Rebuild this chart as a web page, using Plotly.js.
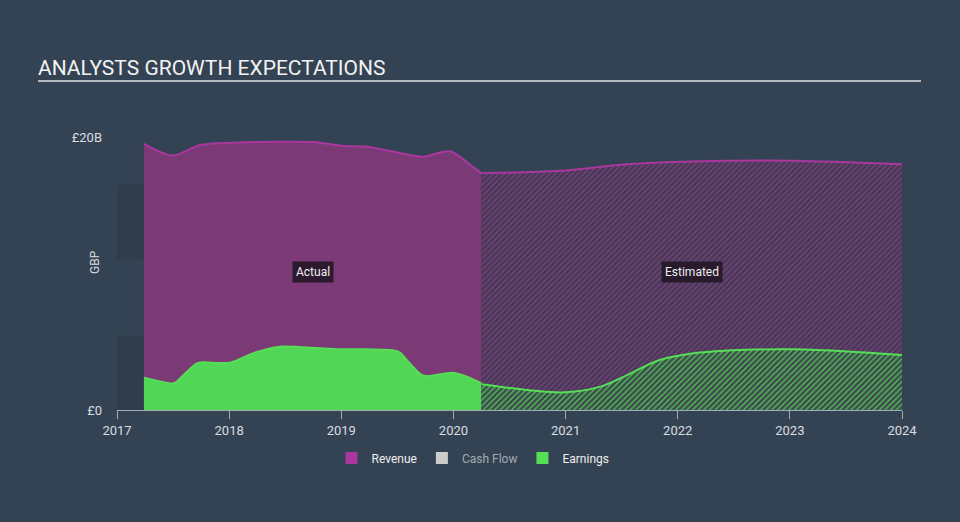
<!DOCTYPE html>
<html>
<head>
<meta charset="utf-8">
<script src="https://cdn.plot.ly/plotly-3.0.1.min.js"></script>
<style>
  html, body { margin: 0; padding: 0; background: #344353; }
  #chart { width: 960px; height: 522px; }
</style>
</head>
<body>
<div id="chart"></div>
<script>
// values in £ billions, x in decimal years
let revActualX = [2017.24, 2017.50, 2017.74, 2018.03, 2018.75, 2019.02, 2019.23, 2019.52, 2019.73, 2019.97, 2020.17, 2020.25];
let revActualY = [19.5, 18.64, 19.41, 19.58, 19.63, 19.34, 19.29, 18.83, 18.56, 18.95, 17.83, 17.35];

let revEstX = [2020.25, 2020.95, 2021.55, 2022.14, 2023.03, 2024.0];
let revEstY = [17.34, 17.53, 18.0, 18.2, 18.26, 18.0];

let earnActualX = [2017.24, 2017.50, 2017.53, 2017.71, 2017.77, 2018.01, 2018.21, 2018.45, 2018.63, 2018.96, 2019.17, 2019.46, 2019.52, 2019.61, 2019.72, 2019.79, 2019.99, 2020.12, 2020.25];
let earnActualY = [2.37, 1.95, 2.07, 3.42, 3.49, 3.47, 4.15, 4.64, 4.62, 4.45, 4.45, 4.37, 4.22, 3.42, 2.56, 2.49, 2.73, 2.44, 1.95];

let earnEstX = [2020.25, 2020.7, 2021.0, 2021.31, 2021.55, 2021.84, 2022.14, 2022.44, 2023.03, 2023.63, 2024.0];
let earnEstY = [1.88, 1.43, 1.30, 1.71, 2.56, 3.66, 4.15, 4.35, 4.45, 4.23, 4.03];

let yearTicks = [2017, 2018, 2019, 2020, 2021, 2022, 2023, 2024];
let yTicks = [0, 20];
let yTickText = ['£0', '£20B'];

let seriesNames = ['Revenue', 'Cash Flow', 'Earnings'];
let seriesColors = ['#a9379e', '#cccccc', '#55de56'];
let hasData = [true, false, true];

let revColor = seriesColors[0];
let earnColor = seriesColors[2];

let data = [
    {
        x: revActualX, y: revActualY, type: 'scatter', mode: 'lines', name: 'Revenue',
        fill: 'tozeroy', fillcolor: '#7b3a76',
        line: {color: revColor, width: 2, shape: 'spline', smoothing: 0.8},
        showlegend: false, hoverinfo: 'skip'
    },
    {
        x: revEstX, y: revEstY, type: 'scatter', mode: 'lines', name: 'Revenue',
        fill: 'tozeroy', fillcolor: '#403d53',
        fillpattern: {shape: '/', size: 4, solidity: 0.3, fgcolor: '#8a3a86', bgcolor: '#403d53'},
        line: {color: revColor, width: 2, shape: 'spline', smoothing: 0.8},
        showlegend: false, hoverinfo: 'skip'
    },
    {
        x: earnActualX, y: earnActualY, type: 'scatter', mode: 'lines', name: 'Earnings',
        fill: 'tozeroy', fillcolor: '#52d655',
        line: {color: earnColor, width: 2, shape: 'spline', smoothing: 0.8},
        showlegend: false, hoverinfo: 'skip'
    },
    {
        x: earnEstX, y: earnEstY, type: 'scatter', mode: 'lines', name: 'Earnings',
        fill: 'tozeroy', fillcolor: '#3d4c4e',
        fillpattern: {shape: '/', size: 4, solidity: 0.3, fgcolor: '#54c957', bgcolor: '#3d4c4e'},
        line: {color: earnColor, width: 2, shape: 'spline', smoothing: 1.1},
        showlegend: false, hoverinfo: 'skip'
    }
];

// legend entries as square swatches (zero-height bars); series without data get dimmed text
seriesNames.forEach(function (name, i) {
    let label = hasData[i] ? name : '<span style="color:#a3aab2">' + name + '</span>';
    data.push({
        x: [yearTicks[0]], y: [0], type: 'bar', name: label,
        marker: {color: seriesColors[i], line: {width: 0}},
        legendrank: i + 1, hoverinfo: 'skip'
    });
});

// middle of actual and estimated periods, for the labels
let actualMid = (revActualX[0] + revActualX[revActualX.length - 1]) / 2;
let estMid = (revEstX[0] + revEstX[revEstX.length - 1]) / 2;

let layout = {
    width: 960,
    height: 522,
    paper_bgcolor: '#344353',
    plot_bgcolor: 'rgba(0,0,0,0)',
    font: {family: 'Roboto, sans-serif', color: '#d9dde1', size: 13},
    margin: {l: 117, r: 58, t: 137, b: 112},
    title: {
        text: 'ANALYSTS GROWTH EXPECTATIONS',
        font: {family: 'Roboto, sans-serif', size: 21, color: '#f2f2f2'},
        x: 38 / 960, xref: 'container', xanchor: 'left',
        y: 1 - 68 / 522, yref: 'container', yanchor: 'middle'
    },
    xaxis: {
        range: [2017, 2024],
        tickvals: yearTicks,
        ticktext: yearTicks.map(String),
        showgrid: false, zeroline: false,
        showline: true, linecolor: '#a3abb3', linewidth: 1,
        ticks: 'outside', ticklen: 8, tickcolor: '#a3abb3',
        tickfont: {size: 13, color: '#d9dde1'}
    },
    yaxis: {
        range: [0, 20],
        tickvals: yTicks,
        ticktext: yTickText,
        showgrid: false, zeroline: false, showline: false,
        ticks: '', ticklabelstandoff: 14,
        tickfont: {size: 13, color: '#d9dde1'}
    },
    shapes: [
        {type: 'rect', layer: 'below', xref: 'x', yref: 'y', x0: 2017, x1: 2024, y0: 0, y1: 5.45,
         fillcolor: 'rgba(0,0,0,0.08)', line: {width: 0}},
        {type: 'rect', layer: 'below', xref: 'x', yref: 'y', x0: 2017, x1: 2024, y0: 11, y1: 16.5,
         fillcolor: 'rgba(0,0,0,0.08)', line: {width: 0}},
        {type: 'line', xref: 'paper', yref: 'paper', x0: (38 - 117) / 785, x1: (921 - 117) / 785,
         y0: (410 - 81) / 273, y1: (410 - 81) / 273, line: {color: '#b4bac0', width: 2}}
    ],
    annotations: [
        {x: actualMid, y: 10.1, xref: 'x', yref: 'y', text: 'Actual', showarrow: false,
         bgcolor: 'rgba(35,22,38,0.9)', borderpad: 3, font: {size: 12, color: '#eeeeee'}},
        {x: estMid, y: 10.1, xref: 'x', yref: 'y', text: 'Estimated', showarrow: false,
         bgcolor: 'rgba(35,22,38,0.9)', borderpad: 3, font: {size: 12, color: '#eeeeee'}},
        {x: (95 - 117) / 785, y: (410 - 262) / 273, xref: 'paper', yref: 'paper', text: 'GBP',
         xanchor: 'center', yanchor: 'middle',
         textangle: -90, showarrow: false, font: {size: 12, color: '#d9dde1'}}
    ],
    legend: {
        orientation: 'h',
        x: (473 - 117) / 785, xanchor: 'center',
        y: (410 - 458) / 273, yanchor: 'middle',
        font: {size: 12, color: '#eeeeee'},
        itemclick: false, itemdoubleclick: false,
        itemwidth: 30,
        bgcolor: 'rgba(0,0,0,0)'
    },
    showlegend: true
};

let config = {responsive: false, displayModeBar: false, staticPlot: true};

Plotly.newPlot('chart', data, layout, config);
</script>
</body>
</html>
